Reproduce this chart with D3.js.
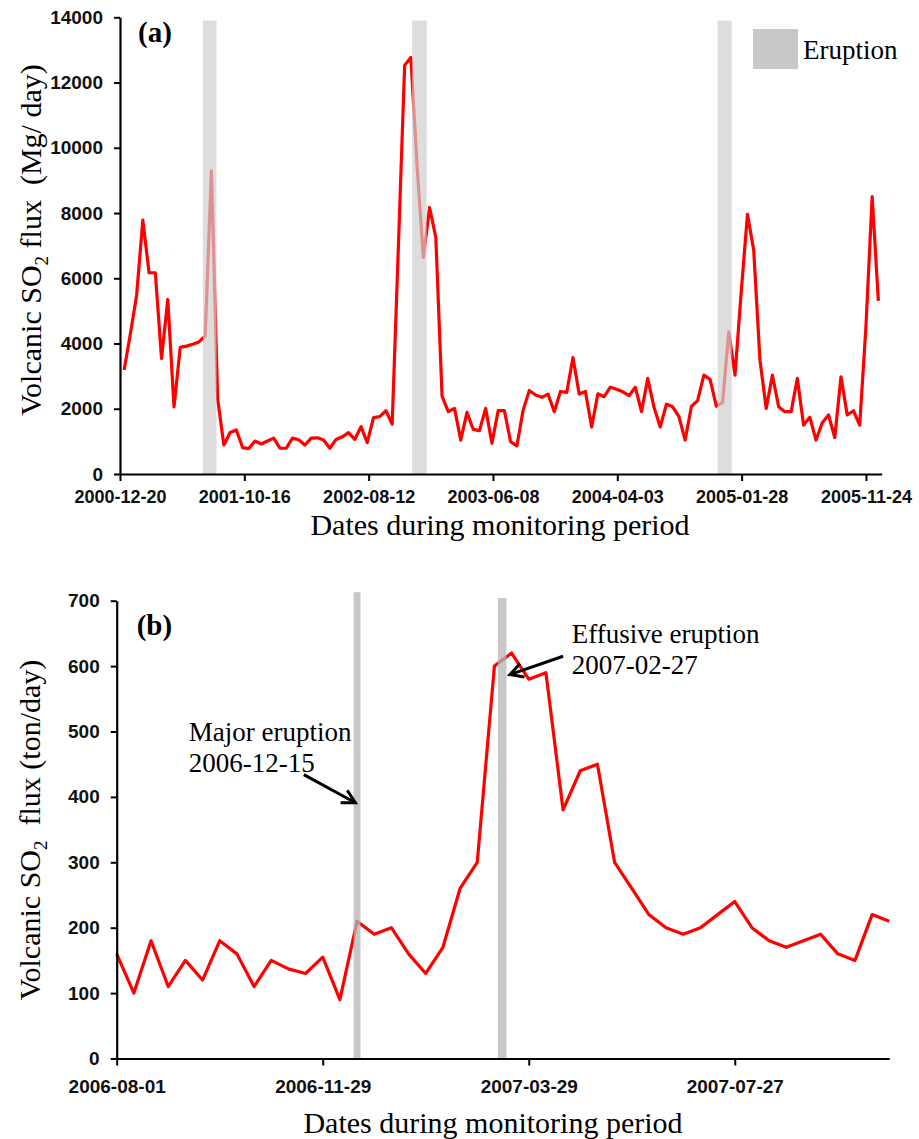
<!DOCTYPE html>
<html>
<head>
<meta charset="utf-8">
<script src="https://cdn.jsdelivr.net/npm/d3@7"></script>
<style>
  body { margin: 0; background: #fff; }
  svg { display: block; }
</style>
</head>
<body>
<div id="chart"></div>
<script>
let w = 919;
let h = 1139;

// ---- panel (a) : SO2 flux in Mg/day, roughly twice a month ----
let fluxA = [3190, 4300, 5480, 7780, 6170, 6170, 3540, 5350, 2060, 3880,
             3920, 3980, 4050, 4230, 9290, 2300, 890, 1270, 1350, 810,
             780, 1010, 920, 1010, 1100, 790, 790, 1100, 1050, 890,
             1100, 1110, 1040, 790, 1060, 1140, 1270, 1060, 1450, 960,
             1730, 1760, 1940, 1530, 7000, 12530, 12770, 9420, 6640, 8170,
             7250, 2390, 1910, 2010, 1040, 1890, 1370, 1330, 2010, 940,
             1940, 1940, 990, 860, 1950, 2560, 2420, 2350, 2450, 1910,
             2530, 2500, 3570, 2450, 2530, 1440, 2460, 2370, 2660, 2600,
             2520, 2400, 2660, 1910, 2930, 2050, 1440, 2140, 2060, 1760,
             1040, 2070, 2250, 3030, 2900, 2080, 2190, 4360, 3030, 5600,
             7960, 6860, 3490, 2010, 3030, 2060, 1910, 1910, 2930, 1500,
             1740, 1040, 1570, 1810, 1120, 2980, 1810, 1940, 1500, 4500,
             8500, 5310];
let firstSampleA = "2000-12-30";
let lastSampleA = "2005-12-24";
let xTicksA = ["2000-12-20", "2001-10-16", "2002-08-12", "2003-06-08",
               "2004-04-03", "2005-01-28", "2005-11-24"];
let yTicksA = [0, 2000, 4000, 6000, 8000, 10000, 12000, 14000];
let eruptionsA = [["2001-07-08", "2001-08-10", 13900],
                  ["2002-11-25", "2002-12-30", 13900],
                  ["2004-12-01", "2005-01-04", 13900]];

// ---- panel (b) : SO2 flux in ton/day, every 10 days ----
let fluxB = [160, 100, 180, 110, 150, 120, 180, 160, 110, 150,
             137, 130, 155, 90, 210, 190, 200, 160, 130, 170,
             260, 300, 600, 620, 580, 590, 380, 440, 450, 300,
             260, 220, 200, 190, 200, 220, 240, 200, 180, 170,
             180, 190, 160, 150, 220, 210];
let firstSampleB = "2006-08-01";
let stepDaysB = 10;
let xTicksB = ["2006-08-01", "2006-11-29", "2007-03-29", "2007-07-27"];
let yTicksB = [0, 100, 200, 300, 400, 500, 600, 700];
let eruptionsB = [["2006-12-17", "2006-12-21", 713],
                  ["2007-03-11", "2007-03-16", 704]];
let notesB = [
  {lines: ["Major eruption", "2006-12-15"], at: ["2006-09-12", 485], from: ["2006-11-18", 434], to: ["2006-12-18", 391]},
  {lines: ["Effusive eruption", "2007-02-27"], at: ["2007-04-23", 636], from: ["2007-04-18", 615], to: ["2007-03-18", 587]}
];

let parse = d3.timeParse("%Y-%m-%d");
let fmt = d3.timeFormat("%Y-%m-%d");
let serif = "'Liberation Serif', 'Times New Roman', serif";
let sans = "'Liberation Sans', Arial, sans-serif";

let viz = d3.select("#chart")
  .append("svg")
    .attr("width", w)
    .attr("height", h)
;
viz.append("rect").attr("width", w).attr("height", h).attr("fill", "white");

//arrow head for the notes
viz.append("defs").append("marker")
    .attr("id", "head")
    .attr("viewBox", "-16 -10 20 20")
    .attr("refX", 0)
    .attr("refY", 0)
    .attr("markerWidth", 20)
    .attr("markerHeight", 20)
    .attr("markerUnits", "userSpaceOnUse")
    .attr("orient", "auto")
  .append("path")
    .attr("d", "M-13,-7 L0,0 L-13,7")
    .attr("fill", "none")
    .attr("stroke", "black")
    .attr("stroke-width", 3)
;

function styleAxis(g, labelSize) {
  g.select(".domain").attr("stroke", "black").attr("stroke-width", 2.2);
  g.selectAll(".tick line").attr("stroke", "black").attr("stroke-width", 2);
  g.selectAll(".tick text")
    .attr("font-family", sans)
    .attr("font-weight", "bold")
    .attr("font-size", labelSize)
    .attr("fill", "#111");
}

function yTitle(x, y, unit) {
  let t = viz.append("text")
    .attr("transform", "translate(" + x + "," + y + ") rotate(-90)")
    .attr("text-anchor", "middle")
    .attr("font-family", serif)
    .attr("font-size", 30)
    .style("white-space", "pre");
  t.append("tspan").text("Volcanic SO");
  t.append("tspan").attr("font-size", 19).attr("dy", 7).text("2");
  t.append("tspan").attr("dy", -7).text(unit);
}

function xTitle(x, y) {
  viz.append("text")
    .attr("x", x).attr("y", y)
    .attr("text-anchor", "middle")
    .attr("font-family", serif)
    .attr("font-size", 30)
    .text("Dates during monitoring period");
}

function panelLabel(x, y, s) {
  viz.append("text")
    .attr("x", x).attr("y", y)
    .attr("font-family", serif)
    .attr("font-weight", "bold")
    .attr("font-size", 29)
    .text(s);
}

// ================= panel (a) =================
let xA = d3.scaleTime()
  .domain([parse("2000-12-20"), parse("2006-01-01")])
  .range([120, 881.7]);
let yA = d3.scaleLinear().domain([0, 14000]).range([474, 17.3]);
let sampleA = d3.scaleLinear()
  .domain([0, fluxA.length - 1])
  .range([parse(firstSampleA), parse(lastSampleA)]);

let lineA = d3.line()
  .x(function(d, i) { return xA(sampleA(i)); })
  .y(function(d) { return yA(d); });

viz.append("path")
  .attr("d", lineA(fluxA))
  .attr("fill", "none")
  .attr("stroke", "#ff0000")
  .attr("stroke-width", 3.2)
  .attr("stroke-linejoin", "round");

viz.append("g").selectAll("rect")
  .data(eruptionsA)
  .join("rect")
    .attr("x", function(d) { return xA(parse(d[0])); })
    .attr("width", function(d) { return xA(parse(d[1])) - xA(parse(d[0])); })
    .attr("y", function(d) { return yA(d[2]); })
    .attr("height", function(d) { return yA(0) - yA(d[2]); })
    .attr("fill", "#cfcfcf")
    .attr("opacity", 0.7);

let axisYA = viz.append("g")
  .attr("transform", "translate(120,0)")
  .call(d3.axisLeft(yA).tickValues(yTicksA).tickFormat(d3.format("d"))
        .tickSize(6).tickSizeOuter(0).tickPadding(11));
styleAxis(axisYA, 19);

let axisXA = viz.append("g")
  .attr("transform", "translate(0,474)")
  .call(d3.axisBottom(xA).tickValues(xTicksA.map(parse)).tickFormat(fmt)
        .tickSize(7).tickSizeOuter(0).tickPadding(9));
styleAxis(axisXA, 18);

//legend
viz.append("rect")
  .attr("x", 753).attr("y", 29)
  .attr("width", 45).attr("height", 40)
  .attr("fill", "#c8c8c8");
viz.append("text")
  .attr("x", 803).attr("y", 59)
  .attr("font-family", serif)
  .attr("font-size", 27)
  .text("Eruption");

panelLabel(138, 41.5, "(a)");
yTitle(41, 240, " flux  (Mg/ day)");
xTitle(500, 535);

// ================= panel (b) =================
let xB = d3.scaleTime()
  .domain([parse("2006-08-01"), parse("2007-10-25")])
  .range([116.7, 889.3]);
let yB = d3.scaleLinear().domain([0, 700]).range([1058.5, 600.7]);

let lineB = d3.line()
  .x(function(d, i) { return xB(d3.timeDay.offset(parse(firstSampleB), stepDaysB * i)); })
  .y(function(d) { return yB(d); });

viz.append("path")
  .attr("d", lineB(fluxB))
  .attr("fill", "none")
  .attr("stroke", "#ff0000")
  .attr("stroke-width", 3.2)
  .attr("stroke-linejoin", "round");

viz.append("g").selectAll("rect")
  .data(eruptionsB)
  .join("rect")
    .attr("x", function(d) { return xB(parse(d[0])); })
    .attr("width", function(d) { return xB(parse(d[1])) - xB(parse(d[0])); })
    .attr("y", function(d) { return yB(d[2]); })
    .attr("height", function(d) { return yB(0) - yB(d[2]); })
    .attr("fill", "#b4b4b4")
    .attr("opacity", 0.75);

let axisYB = viz.append("g")
  .attr("transform", "translate(116.7,0)")
  .call(d3.axisLeft(yB).tickValues(yTicksB).tickFormat(d3.format("d"))
        .tickSize(6).tickSizeOuter(0).tickPadding(11));
styleAxis(axisYB, 19);

let axisXB = viz.append("g")
  .attr("transform", "translate(0,1058.5)")
  .call(d3.axisBottom(xB).tickValues(xTicksB.map(parse)).tickFormat(fmt)
        .tickSize(7).tickSizeOuter(0).tickPadding(14));
styleAxis(axisXB, 19);

//notes with arrows
notesB.forEach(function(n) {
  let t = viz.append("text")
    .attr("x", xB(parse(n.at[0])))
    .attr("y", yB(n.at[1]))
    .attr("font-family", serif)
    .attr("font-size", 27);
  n.lines.forEach(function(s, i) {
    t.append("tspan")
      .attr("x", xB(parse(n.at[0])))
      .attr("dy", i == 0 ? 0 : 31)
      .text(s);
  });
  viz.append("path")
    .attr("d", d3.line()([[xB(parse(n.from[0])), yB(n.from[1])], [xB(parse(n.to[0])), yB(n.to[1])]]))
    .attr("stroke", "black")
    .attr("stroke-width", 3)
    .attr("marker-end", "url(#head)");
});

panelLabel(136.7, 634.6, "(b)");
yTitle(40, 830, "  flux (ton/day)");
xTitle(493, 1133);
</script>
</body>
</html>
